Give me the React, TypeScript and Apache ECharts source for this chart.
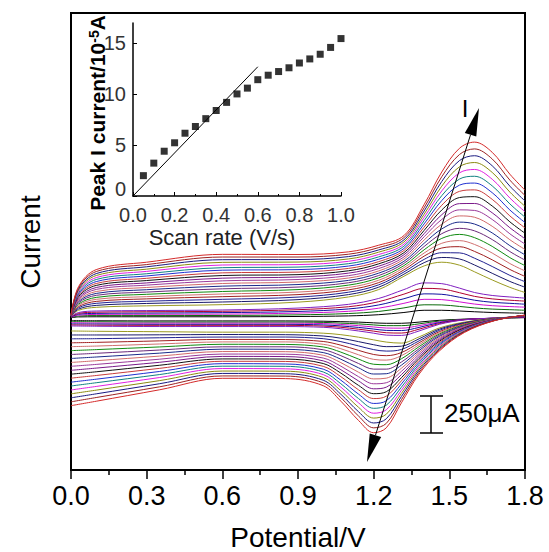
import React, { useEffect, useRef } from 'react';
import * as echarts from 'echarts';

// Potentials (V) of the forward (anodic) and reverse (cathodic) sweeps
const anodicPotential = [0, 0.03, 0.1, 0.3, 0.6, 0.9, 1.1, 1.22, 1.32, 1.4, 1.47, 1.54, 1.6, 1.67, 1.74, 1.8];
const cathodicPotential = [1.8, 1.68, 1.56, 1.46, 1.38, 1.31, 1.25, 1.2, 1.14, 1.07, 1.0, 0.85, 0.6, 0.35, 0.1, 0];

// Current (µA) of the densely packed low-rate curves near the baseline
const bandAnodic = [
  [10, 15, 16, 16, 16, 18, 22, 30, 45, 60, 60, 55, 50, 45, 42, 40],
  [12, 21, 24, 24, 25, 29, 38, 52, 76, 97, 96, 86, 76, 68, 64, 60],
  [13, 27, 32, 33, 34, 41, 53, 74, 107, 134, 132, 117, 102, 91, 85, 81],
  [15, 33, 39, 41, 44, 52, 69, 96, 138, 171, 168, 148, 128, 114, 107, 101],
  [16, 39, 47, 50, 53, 64, 84, 118, 169, 208, 204, 179, 154, 137, 128, 122],
  [18, 45, 55, 58, 62, 75, 100, 140, 200, 245, 240, 210, 180, 160, 150, 142],
];
const bandCathodic = [
  [10, 5, 0, -8, -20, -28, -28, -25, -20, -17, -14, -12, -12, -12, -11, -10],
  [12, 6, -1, -13, -32, -44, -44, -39, -32, -27, -22, -20, -20, -20, -18, -17],
  [13, 6, -2, -19, -44, -61, -60, -53, -44, -36, -30, -27, -27, -27, -26, -24],
  [15, 7, -3, -24, -56, -77, -76, -67, -56, -46, -39, -35, -35, -35, -33, -32],
  [16, 7, -4, -30, -68, -94, -92, -81, -68, -55, -47, -42, -42, -42, -41, -39],
  [18, 8, -5, -35, -80, -110, -108, -95, -80, -65, -55, -50, -50, -50, -48, -46],
];

// Current (µA) of the 20 widely spaced curves, innermost first
const sweepAnodic = [
  [20, 60, 80, 90, 98, 115, 150, 200, 290, 360, 385, 365, 320, 265, 215, 180],
  [20, 68, 93, 106, 116, 132, 166, 216, 304, 382, 417, 407, 366, 310, 255, 216],
  [21, 77, 107, 121, 134, 149, 182, 232, 319, 404, 449, 448, 412, 356, 296, 253],
  [21, 85, 120, 137, 152, 166, 198, 247, 333, 426, 481, 490, 458, 401, 336, 289],
  [21, 94, 134, 152, 170, 183, 214, 263, 348, 447, 513, 531, 505, 447, 376, 326],
  [22, 102, 147, 168, 187, 200, 230, 279, 362, 469, 546, 573, 551, 492, 416, 362],
  [22, 111, 161, 183, 205, 217, 246, 295, 377, 491, 578, 614, 597, 538, 457, 399],
  [23, 119, 174, 199, 223, 234, 262, 311, 391, 513, 610, 656, 643, 583, 497, 435],
  [23, 127, 187, 214, 241, 251, 278, 326, 406, 535, 642, 698, 689, 628, 537, 471],
  [23, 136, 201, 230, 259, 268, 294, 342, 420, 557, 674, 739, 735, 674, 577, 508],
  [24, 144, 214, 245, 277, 285, 311, 358, 435, 578, 706, 781, 782, 719, 618, 544],
  [24, 153, 228, 261, 295, 301, 327, 374, 449, 600, 738, 822, 828, 765, 658, 581],
  [24, 161, 241, 276, 313, 318, 343, 389, 464, 622, 770, 864, 874, 810, 698, 617],
  [25, 169, 254, 292, 331, 335, 359, 405, 478, 644, 802, 906, 920, 855, 738, 653],
  [25, 178, 268, 307, 348, 352, 375, 421, 493, 666, 835, 947, 966, 901, 779, 690],
  [26, 186, 281, 323, 366, 369, 391, 437, 507, 688, 867, 989, 1012, 946, 819, 726],
  [26, 195, 295, 338, 384, 386, 407, 453, 522, 709, 899, 1030, 1059, 992, 859, 763],
  [26, 203, 308, 354, 402, 403, 423, 468, 536, 731, 931, 1072, 1105, 1037, 899, 799],
  [27, 212, 322, 369, 420, 420, 439, 484, 551, 753, 963, 1113, 1151, 1083, 940, 836],
  [27, 220, 335, 385, 438, 437, 455, 500, 565, 775, 995, 1155, 1197, 1128, 980, 872],
];
const sweepCathodic = [
  [20, 5, -20, -60, -120, -162, -155, -140, -122, -105, -95, -88, -88, -85, -82, -80],
  [20, 4, -24, -68, -133, -183, -186, -173, -152, -129, -114, -105, -104, -106, -107, -107],
  [21, 3, -27, -76, -147, -205, -216, -206, -181, -152, -132, -121, -121, -126, -132, -133],
  [21, 3, -31, -85, -160, -226, -247, -239, -211, -176, -151, -138, -137, -147, -157, -160],
  [21, 2, -35, -93, -173, -247, -277, -272, -241, -200, -170, -154, -154, -168, -182, -186],
  [22, 1, -38, -101, -186, -268, -308, -305, -270, -223, -188, -171, -170, -188, -206, -213],
  [22, 0, -42, -109, -200, -290, -338, -338, -300, -247, -207, -187, -187, -209, -231, -239],
  [23, -1, -46, -117, -213, -311, -369, -371, -329, -271, -226, -204, -203, -230, -256, -266],
  [23, -1, -49, -126, -226, -332, -399, -404, -359, -294, -244, -220, -219, -250, -281, -293],
  [23, -2, -53, -134, -239, -353, -430, -437, -389, -318, -263, -237, -236, -271, -306, -319],
  [24, -3, -57, -142, -253, -375, -460, -471, -418, -342, -282, -253, -252, -292, -331, -346],
  [24, -4, -60, -150, -266, -396, -491, -504, -448, -365, -300, -270, -269, -312, -356, -372],
  [24, -4, -64, -159, -279, -417, -521, -537, -478, -389, -319, -286, -285, -333, -381, -399],
  [25, -5, -68, -167, -292, -438, -552, -570, -507, -413, -338, -303, -301, -354, -406, -426],
  [25, -6, -72, -175, -306, -460, -582, -603, -537, -437, -357, -319, -318, -375, -430, -452],
  [26, -7, -75, -183, -319, -481, -613, -636, -566, -460, -375, -336, -334, -395, -455, -479],
  [26, -8, -79, -191, -332, -502, -643, -669, -596, -484, -394, -352, -351, -416, -480, -505],
  [26, -8, -83, -200, -345, -523, -674, -702, -626, -508, -413, -369, -367, -437, -505, -532],
  [27, -9, -86, -208, -359, -545, -705, -735, -655, -531, -431, -385, -384, -458, -530, -559],
  [27, -10, -90, -216, -372, -566, -735, -768, -685, -555, -450, -402, -400, -478, -555, -585],
];

const bandColors = ['#000000', '#0a6a0a', '#d010d0', '#1010a0', '#b00030', '#8020c0'];
const sweepColors = [
  '#9a9a20', '#1a1a6a', '#202090', '#a02020', '#d07070', '#108a10', '#6a2a7a', '#1a2a8a', '#d06a6a', '#9a3a9a',
  '#7a1a8a', '#111111', '#c83c3c', '#2030d0', '#108080', '#e020e0', '#8a8a10', '#1a1a80', '#9b2222', '#d42a2a',
];

// Inset: peak current (10^-5 A) against scan rate (V/s)
const scanRates = [0.05, 0.1, 0.15, 0.2, 0.25, 0.3, 0.35, 0.4, 0.45, 0.5, 0.55, 0.6, 0.65, 0.7, 0.75, 0.8, 0.85, 0.9, 0.95, 1.0];
const peakCurrents = [2.0, 3.23, 4.4, 5.23, 6.17, 6.83, 7.6, 8.4, 9.2, 10.03, 10.6, 11.43, 11.87, 12.23, 12.6, 13.07, 13.47, 13.93, 14.6, 15.47];
const fitRate = [0, 0.6];
const fitCurrent = [0, 12.7];

export default function App() {
  const ref = useRef<HTMLDivElement>(null);
  useEffect(() => {
    const chart = echarts.init(ref.current as HTMLDivElement, null, { renderer: 'svg' });
    const font = 'Liberation Sans, Arial, sans-serif';
    const series: any[] = [];
    const addCurve = (an: number[], ca: number[], color: string) => {
      series.push({
        type: 'line', xAxisIndex: 0, yAxisIndex: 0, silent: true,
        data: anodicPotential.map((e, j) => [e, an[j]]),
        smooth: 0.35, symbol: 'none', lineStyle: { color, width: 1 },
      });
      series.push({
        type: 'line', xAxisIndex: 0, yAxisIndex: 0, silent: true,
        data: cathodicPotential.map((e, j) => [e, ca[j]]),
        smooth: 0.35, symbol: 'none', lineStyle: { color, width: 1 },
      });
    };
    bandAnodic.forEach((row, i) => addCurve(row, bandCathodic[i], bandColors[i]));
    sweepAnodic.forEach((row, i) => addCurve(row, sweepCathodic[i], sweepColors[i]));

    series.push({
      type: 'line', xAxisIndex: 1, yAxisIndex: 1, silent: true,
      data: fitRate.map((x, i) => [x, fitCurrent[i]]),
      symbol: 'none', lineStyle: { color: '#000', width: 1 },
    });
    series.push({
      type: 'scatter', xAxisIndex: 1, yAxisIndex: 1, silent: true,
      data: scanRates.map((x, i) => [x, peakCurrents[i]]),
      symbol: 'rect', symbolSize: 7, itemStyle: { color: '#000' },
    });

    // double-headed arrow geometry (pixels)
    const tipTop = [479, 108];
    const tipBot = [367, 462];
    const dx = tipTop[0] - tipBot[0];
    const dy = tipTop[1] - tipBot[1];
    const len = Math.sqrt(dx * dx + dy * dy);
    const ux = dx / len, uy = dy / len;
    const px = -uy, py = ux;
    const headL = 28, headW = 6;
    const baseTop = [tipTop[0] - ux * headL, tipTop[1] - uy * headL];
    const baseBot = [tipBot[0] + ux * headL, tipBot[1] + uy * headL];

    chart.setOption({
      animation: false,
      backgroundColor: '#fff',
      grid: [
        { left: 71, top: 13, width: 454, height: 457, show: true, borderColor: '#000', borderWidth: 2 },
        { left: 133, top: 23, width: 208, height: 173 },
      ],
      xAxis: [
        {
          type: 'value', gridIndex: 0, min: 0, max: 1.8, interval: 0.3,
          axisLine: { show: true, onZero: false, lineStyle: { color: '#000', width: 2 } },
          axisTick: { show: true, inside: false, length: 9, lineStyle: { color: '#000', width: 1.5 } },
          minorTick: { show: true, splitNumber: 2, length: 5, lineStyle: { color: '#000', width: 1.5 } },
          axisLabel: { fontSize: 27, color: '#000', margin: 12, fontFamily: font, formatter: (v: number) => v.toFixed(1) },
          splitLine: { show: false },
        },
        {
          type: 'value', gridIndex: 1, min: 0, max: 1, interval: 0.2,
          axisLine: { show: true, onZero: false, lineStyle: { color: '#000', width: 1.5 } },
          axisTick: { show: true, inside: true, length: 4, lineStyle: { color: '#000' } },
          minorTick: { show: true, splitNumber: 2, length: 2, lineStyle: { color: '#000' } },
          axisLabel: { fontSize: 20, color: '#333', margin: 9, fontFamily: font, formatter: (v: number) => v.toFixed(1) },
          splitLine: { show: false },
        },
      ],
      yAxis: [
        {
          type: 'value', gridIndex: 0, min: -1020, max: 2070,
          axisLine: { show: false, onZero: false }, axisTick: { show: false }, axisLabel: { show: false }, splitLine: { show: false },
        },
        {
          type: 'value', gridIndex: 1, min: 0, max: 17, interval: 5,
          axisLine: { show: true, onZero: false, lineStyle: { color: '#000', width: 1.5 } },
          axisTick: { show: true, inside: true, length: 4, lineStyle: { color: '#000' } },
          axisLabel: {
            fontSize: 20, color: '#333', margin: 7, fontFamily: font, showMaxLabel: false,
            formatter: (v: number) => (v === 0 ? '{z|0}' : String(v)),
            rich: { z: { fontSize: 20, color: '#333', fontFamily: font, padding: [0, 0, 14, 0] } },
          },
          splitLine: { show: false },
        },
      ],
      series,
      graphic: [
        { type: 'text', x: 30, y: 242, rotation: Math.PI / 2, z: 100,
          style: { text: 'Current', fontSize: 28, fontFamily: font, fill: '#000', align: 'center', verticalAlign: 'middle' } },
        { type: 'text', x: 298, y: 537, z: 100,
          style: { text: 'Potential/V', fontSize: 28, fontFamily: font, fill: '#000', align: 'center', verticalAlign: 'middle' } },
        { type: 'text', x: 222, y: 237, z: 100,
          style: { text: 'Scan rate (V/s)', fontSize: 22, fontFamily: font, fill: '#222', align: 'center', verticalAlign: 'middle' } },
        { type: 'text', x: 97, y: 113, rotation: Math.PI / 2, z: 100,
          style: {
            text: '{a|Peak I current/10}{b|-5}{a|A}', align: 'center', verticalAlign: 'middle',
            rich: {
              a: { fontSize: 21, fontWeight: 'bold', fontFamily: font, fill: '#000', verticalAlign: 'bottom' },
              b: { fontSize: 14, fontWeight: 'bold', fontFamily: font, fill: '#000', verticalAlign: 'top' },
            },
          } },
        { type: 'text', x: 465, y: 108, z: 100,
          style: { text: 'I', fontSize: 24, fontFamily: font, fill: '#000', align: 'center', verticalAlign: 'middle' } },
        // scale bar
        { type: 'line', z: 100, shape: { x1: 431, y1: 396, x2: 431, y2: 433 }, style: { stroke: '#000', lineWidth: 1.5 } },
        { type: 'line', z: 100, shape: { x1: 420, y1: 396, x2: 443, y2: 396 }, style: { stroke: '#000', lineWidth: 1.5 } },
        { type: 'line', z: 100, shape: { x1: 420, y1: 433, x2: 443, y2: 433 }, style: { stroke: '#000', lineWidth: 1.5 } },
        { type: 'text', x: 444, y: 413, z: 100,
          style: { text: '250μA', fontSize: 26, fontFamily: font, fill: '#000', align: 'left', verticalAlign: 'middle' } },
        // arrow
        { type: 'line', z: 100, shape: { x1: baseBot[0], y1: baseBot[1], x2: baseTop[0], y2: baseTop[1] }, style: { stroke: '#000', lineWidth: 1 } },
        { type: 'polygon', z: 100, shape: { points: [tipTop, [baseTop[0] + px * headW, baseTop[1] + py * headW], [baseTop[0] - px * headW, baseTop[1] - py * headW]] }, style: { fill: '#000' } },
        { type: 'polygon', z: 100, shape: { points: [tipBot, [baseBot[0] + px * headW, baseBot[1] + py * headW], [baseBot[0] - px * headW, baseBot[1] - py * headW]] }, style: { fill: '#000' } },
      ],
    });
    return () => chart.dispose();
  }, []);
  return <div ref={ref} style={{ position: 'fixed', left: 0, top: 0, width: 549, height: 552, background: '#fff' }} />;
}
